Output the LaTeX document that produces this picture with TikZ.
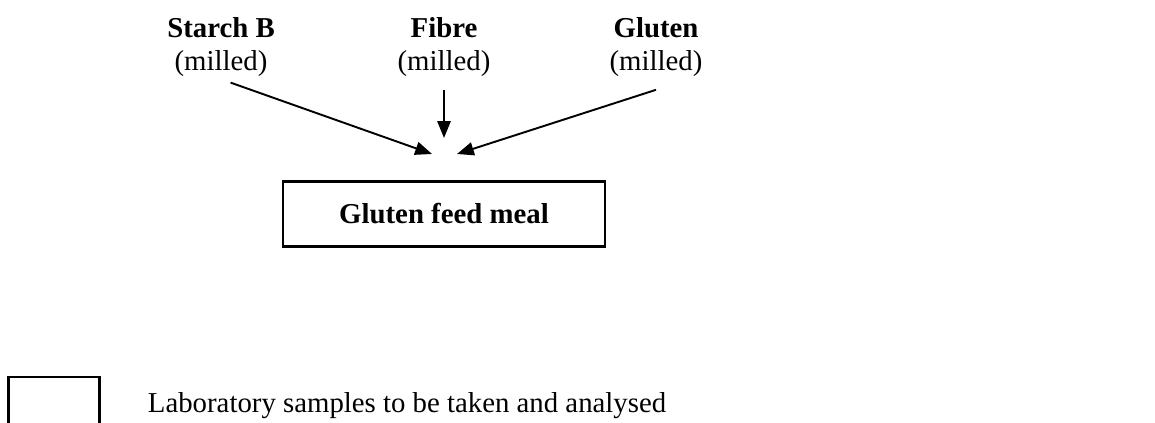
\documentclass[tikz,border=0pt]{standalone}
\usepackage{fontspec}
\setmainfont{Liberation Serif}
\usepackage{tikz}
\usetikzlibrary{arrows.meta}
\tikzset{
every picture/.style={line width=0.8pt, >={Triangle[length=7pt,width=5.5pt]}},
%%%%%%%%%%  Node styles
source/.style={align=center, inner sep=1pt,
               font=\fontsize{12}{14}\selectfont},
product/.style={draw, line width=1pt, minimum width=134pt, minimum height=27pt,
                inner sep=0pt, font=\fontsize{12}{14}\selectfont\bfseries},
samplebox/.style={draw, line width=1pt, minimum width=38pt, minimum height=26pt},
legend/.style={inner sep=0pt, anchor=base west,
               font=\fontsize{12}{14}\selectfont},
%%%%%%% arrows
feed/.style={->, line width=0.8pt}
}

\begin{document}
\begin{tikzpicture}[x=0.41667pt, y=-0.41667pt]
\useasboundingbox (0,0) rectangle (1155,422);
%% milled sources
\node[source] (starch) at (221,47) {\textbf{Starch B}\\(milled)};
\node[source] (fibre) at (444,47) {\textbf{Fibre}\\(milled)};
\node[source] (gluten) at (656,47) {\textbf{Gluten}\\(milled)};
%% product
\node[product] (meal) at (444,214) {Gluten feed meal};
%% arrow ends above the product
\coordinate (inleft) at (432,154);
\coordinate (inmid) at (444,138);
\coordinate (inright) at (457,154);
\draw[feed] ([xshift=4pt,yshift=-1pt]starch.south) -- (inleft);
\draw[feed] ([yshift=-4pt]fibre.south) -- (inmid);
\draw[feed] ([yshift=-4pt]gluten.south) -- (inright);
%% legend
\node[samplebox] (sample) at (54,408) {};
\node[legend] (sampletext) at (147,412) {Laboratory samples to be taken and analysed};
\end{tikzpicture}
\end{document}
